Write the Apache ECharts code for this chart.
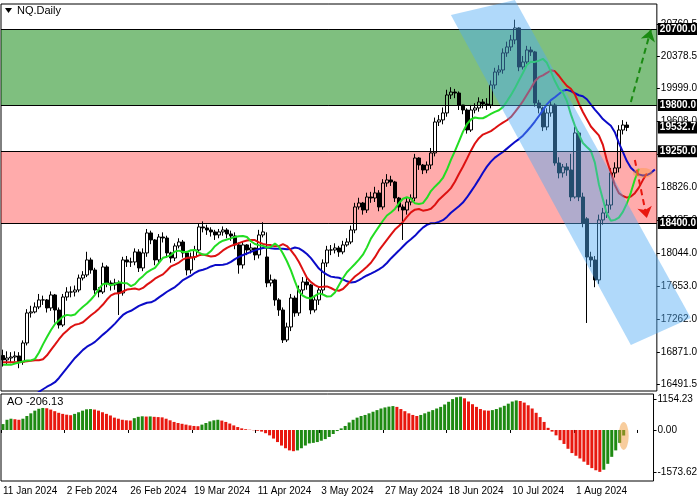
<!DOCTYPE html>
<html>
<head>
<meta charset="utf-8">
<script src="https://cdn.jsdelivr.net/npm/echarts@6/dist/echarts.min.js"></script>
<style>
  html, body { margin: 0; padding: 0; background: #fff; }
  #chart { width: 700px; height: 500px; }
</style>
</head>
<body>
<div id="chart"></div>
<script>
// daily NQ candles
const closes = [
  16778,16801,16813,16825,16754,16979,17335,17347,17406,17489,
  17489,17394,17548,17370,17192,17524,17583,17583,17607,17749,
  17785,17963,17844,17607,17583,17880,17690,17667,17690,17572,
  17963,17939,17939,18058,17868,18046,18283,18200,17963,18235,
  18223,18046,17986,18129,18176,18046,17844,17998,18081,18354,
  18342,18318,18295,18259,18295,18318,18271,18247,18141,17904,
  18141,18081,18105,18022,18259,18295,17690,17726,17489,17370,
  17015,17169,17512,17335,17607,17702,17667,17370,17489,17607,
  17927,18081,18081,18105,18058,18141,18176,18318,18591,18638,
  18555,18709,18697,18757,18591,18875,18911,18887,18697,18591,
  18555,18650,18697,19171,19088,19029,19088,19231,19598,19622,
  19705,19918,19953,19941,19799,19740,19503,19740,19764,19835,
  19811,19799,20036,20190,20214,20416,20487,20570,20712,20250,
  20309,20451,20428,19823,19764,19539,19705,19799,19112,18994,
  19065,19029,18709,19468,18709,18401,17998,17963,17726,18437,
  18520,18614,18994,19053,19503,19562,19533
];
const opens = [
  16830,16778,16801,16813,16825,16754,16979,17335,17347,17406,
  17489,17489,17394,17548,17370,17192,17524,17583,17583,17607,
  17749,17785,17963,17844,17607,17583,17880,17690,17667,17690,
  17572,17963,17939,17939,18058,17868,18046,18283,18200,17963,
  18235,18223,18046,17986,18129,18176,18046,17844,17998,18081,
  18354,18342,18318,18295,18259,18295,18318,18271,18247,18141,
  17904,18141,18081,18105,18022,18259,17998,17690,17726,17489,
  17370,17015,17169,17512,17335,17607,17702,17667,17370,17489,
  17607,17927,18081,18081,18105,18058,18141,18176,18318,18591,
  18638,18555,18709,18697,18757,18591,18875,18911,18887,18697,
  18591,18555,18650,18697,19171,19088,19029,19088,19231,19598,
  19622,19705,19918,19953,19941,19799,19740,19503,19740,19764,
  19835,19811,19799,20036,20190,20214,20416,20487,20570,20712,
  20250,20309,20451,20428,19823,19764,19539,19705,19799,19112,
  18994,19065,19029,18709,19468,18709,18450,17998,17963,17726,
  18437,18520,18614,18994,19053,19503,19562
];
const highs = [
  16900,16880,16870,16880,16870,17010,17380,17420,17460,17560,
  17540,17500,17590,17560,17400,17560,17640,17650,17660,17790,
  17830,18060,17990,17870,17640,17930,17900,17720,17740,17720,
  18000,18010,17990,18100,18090,18100,18330,18310,18210,18270,
  18290,18250,18060,18160,18220,18200,18070,18050,18130,18400,
  18420,18380,18350,18320,18330,18360,18340,18310,18290,18170,
  18180,18150,18160,18080,18320,18410,18290,17790,17740,17510,
  17400,17220,17560,17540,17660,17760,17760,17680,17530,17650,
  17970,18130,18140,18160,18130,18190,18220,18370,18640,18700,
  18650,18760,18770,18830,18790,18920,18980,18960,18900,18710,
  18620,18700,18740,19220,19180,19100,19130,19290,19650,19680,
  19770,19980,20010,19990,19960,19800,19760,19800,19820,19890,
  19870,19880,20090,20240,20270,20470,20550,20630,20810,20720,
  20380,20500,20490,20440,19860,19780,19760,19850,19820,19180,
  19100,19110,19220,19540,19490,18760,18470,18060,18010,18500,
  18580,18680,19050,19120,19560,19620,19600
];
const lows = [
  16700,16720,16740,16760,16680,16720,16950,17280,17330,17380,
  17430,17340,17360,17220,17150,17170,17480,17520,17530,17580,
  17720,17760,17800,17560,17520,17560,17640,17600,17610,17311,
  17540,17880,17880,17900,17820,17830,18000,18150,17900,17920,
  18170,17990,17930,17950,18100,17990,17780,17800,17960,18050,
  18290,18260,18240,18200,18220,18250,18220,18190,18090,17800,
  17860,18020,18040,17960,17980,18230,17640,17650,17420,17300,
  16979,16990,17120,17290,17300,17560,17610,17320,17340,17430,
  17550,17880,18020,18040,18000,18030,18120,18150,18280,18560,
  18500,18520,18640,18650,18540,18560,18830,18840,18650,18540,
  18200,18500,18610,18660,19030,18980,18990,19040,19190,19550,
  19570,19660,19870,19880,19740,19690,19460,19480,19700,19720,
  19760,19740,19760,19990,20150,20170,20370,20440,20520,20200,
  20220,20260,20380,19780,19700,19490,19500,19660,19080,18930,
  18940,18960,18660,18690,18660,18350,17216,17880,17640,17680,
  18380,18460,18560,18940,19000,19450,19490
];
// Awesome Oscillator histogram
const aoValues = [
  220,380,420,400,380,420,520,620,720,790,
  820,810,760,700,640,600,570,550,600,660,
  720,770,780,760,720,660,600,540,460,420,
  380,360,350,440,490,510,500,505,490,480,
  470,420,360,300,260,230,200,170,150,140,
  200,260,320,360,380,350,300,240,170,110,
  60,30,10,-10,-30,-60,-120,-200,-320,-450,
  -580,-680,-760,-790,-760,-680,-580,-500,-480,-450,
  -400,-340,-260,-150,-40,60,150,280,380,460,
  520,560,620,680,740,800,840,870,890,860,
  780,700,620,560,520,560,620,680,740,800,
  860,950,1050,1150,1220,1240,1180,1060,960,860,
  780,730,720,740,780,840,900,980,1060,1100,
  1080,1020,920,800,640,480,300,80,-60,-200,
  -380,-520,-700,-860,-960,-1060,-1180,-1300,-1420,-1500,
  -1560,-1480,-1260,-1000,-760,-480,-206.13
];
const tickLabels = ['11 Jan 2024','2 Feb 2024','26 Feb 2024','19 Mar 2024','11 Apr 2024',
  '3 May 2024','27 May 2024','18 Jun 2024','10 Jul 2024','1 Aug 2024'];
const priceTicks = [16491.5,16871,17262,17653,18044,18435,18826,19217,19608,19999,20378.5,20760.5];
const aoTicks = [-1573.62, 0, 1154.23];
const levels = [20700, 19800, 19250, 18400];
const lastPrice = 19532.7;
// alligator seeds (line values at the left edge)
const lipsSeed = 16720, teethSeed = 16750, jawSeed = 16330;
// channel corners [bar, price]
const channel = [[112, 20866], [128, 21043], [172, 17275], [157, 16955]];
const upArrow = [[157, 19835], [162, 20690]];
const downArrow = [[158, 19148], [161, 18460]];

const N = 164; // visible slots incl. shifted alligator space
const cats = [];
for (let i = 0; i < N; i++) cats.push(String(i));

const candles = closes.map((c, i) => [opens[i], c, lows[i], highs[i]]);
const median = highs.map((h, i) => (h + lows[i]) / 2);

function smmaShifted(period, shift, seed) {
  const s = [];
  let v = seed;
  for (let i = 0; i < median.length; i++) {
    v = (v * (period - 1) + median[i]) / period;
    s.push(v);
  }
  const out = [];
  for (let j = 0; j < N; j++) {
    const k = j - shift;
    if (k < 0) out.push(seed);
    else if (k < s.length) out.push(+s[k].toFixed(1));
    else out.push(null);
  }
  return out;
}

const aoData = aoValues.map((v, i) => ({
  value: v,
  itemStyle: { color: (i > 0 && v < aoValues[i - 1]) ? '#e8180f' : '#1e8a12' }
}));

const font = 'Liberation Sans';
const boxLabel = txt => ({
  show: true, position: 'end', distance: 1, formatter: txt, color: '#fff',
  backgroundColor: '#000', padding: [2, 1, 0, 2], fontSize: 10, fontWeight: 'bold', fontFamily: font
});

const chart = echarts.init(document.getElementById('chart'));
chart.setOption({
  animation: false,
  backgroundColor: '#fff',
  textStyle: { fontFamily: font },
  grid: [
    { left: 1, top: 4, width: 656, height: 387, show: true, borderColor: '#000', borderWidth: 1, backgroundColor: 'transparent' },
    { left: 1, top: 394, width: 656, height: 87, show: true, borderColor: '#000', borderWidth: 1, backgroundColor: 'transparent' }
  ],
  xAxis: [
    { type: 'category', gridIndex: 0, data: cats, boundaryGap: true,
      axisLine: { show: false }, axisTick: { show: false }, axisLabel: { show: false }, splitLine: { show: false } },
    { type: 'category', gridIndex: 1, data: cats, boundaryGap: true,
      axisLine: { show: false },
      axisTick: { show: true, interval: 15, length: 3, lineStyle: { color: '#000' } },
      axisLabel: { interval: 15, fontSize: 10, color: '#000', align: 'left', margin: 5,
        formatter: (v, idx) => tickLabels[idx / 16] || '' },
      splitLine: { show: false } }
  ],
  yAxis: [
    { type: 'value', gridIndex: 0, position: 'right', min: 16410, max: 20996,
      axisLine: { show: false }, splitLine: { show: false },
      axisTick: { show: true, customValues: priceTicks, length: 3, lineStyle: { color: '#000' } },
      axisLabel: { customValues: priceTicks, fontSize: 10, color: '#000', margin: 4,
        formatter: v => v.toFixed(1) } },
    { type: 'value', gridIndex: 1, position: 'right', min: -1900, max: 1340,
      axisLine: { show: false }, splitLine: { show: false },
      axisTick: { show: true, customValues: aoTicks, length: 3, lineStyle: { color: '#000' } },
      axisLabel: { customValues: aoTicks, fontSize: 10, color: '#000', margin: 4,
        formatter: v => v.toFixed(2) } }
  ],
  series: [
    { type: 'line', xAxisIndex: 0, yAxisIndex: 0, data: [], z: 0,
      markArea: { silent: true, data: [
        [{ yAxis: 19800, itemStyle: { color: 'rgba(0,128,0,0.5)' } }, { yAxis: 20700 }],
        [{ yAxis: 18400, itemStyle: { color: 'rgba(255,0,0,0.33)' } }, { yAxis: 19250 }]
      ] } },
    { name: 'NQ', type: 'candlestick', xAxisIndex: 0, yAxisIndex: 0, data: candles, barWidth: 3, z: 3,
      itemStyle: { color: 'rgba(0,0,0,0)', color0: '#000', borderColor: '#000', borderColor0: '#000', borderWidth: 1 },
      markLine: {
        silent: true, symbol: 'none', animation: false,
        data: levels.map(v => ({
          yAxis: v, lineStyle: { color: '#000', width: 1, type: 'solid' }, label: boxLabel(v.toFixed(1))
        })).concat([
          { yAxis: lastPrice, lineStyle: { color: 'rgba(0,0,0,0)', width: 1 }, label: boxLabel(lastPrice.toFixed(1)) },
          [{ coord: [String(upArrow[0][0]), upArrow[0][1]], symbol: 'none' },
           { coord: [String(upArrow[1][0]), upArrow[1][1]], symbol: 'arrow', symbolSize: 11,
             lineStyle: { color: '#1a8a12', width: 2, type: [6, 4] }, label: { show: false } }],
          [{ coord: [String(downArrow[0][0]), downArrow[0][1]], symbol: 'none' },
           { coord: [String(downArrow[1][0]), downArrow[1][1]], symbol: 'arrow', symbolSize: 11,
             lineStyle: { color: '#e8180f', width: 2, type: [6, 4] }, label: { show: false } }]
        ])
      } },
    { type: 'line', xAxisIndex: 0, yAxisIndex: 0, data: smmaShifted(13, 8, jawSeed), symbol: 'none', z: 4,
      lineStyle: { color: '#0b0bc8', width: 2 } },
    { type: 'line', xAxisIndex: 0, yAxisIndex: 0, data: smmaShifted(8, 5, teethSeed), symbol: 'none', z: 4,
      lineStyle: { color: '#dd1111', width: 2 } },
    { type: 'line', xAxisIndex: 0, yAxisIndex: 0, data: smmaShifted(5, 3, lipsSeed), symbol: 'none', z: 4,
      lineStyle: { color: '#22dd22', width: 2 } },
    { type: 'scatter', xAxisIndex: 0, yAxisIndex: 0, data: [['160', 18994]], symbolSize: [20, 10], z: 5,
      itemStyle: { color: 'rgba(255,150,60,0.55)' } },
    { type: 'bar', xAxisIndex: 1, yAxisIndex: 1, data: aoData, barWidth: 3 },
    { type: 'scatter', xAxisIndex: 1, yAxisIndex: 1, data: [['156', -220]], symbolSize: [10, 28], z: 5,
      itemStyle: { color: 'rgba(240,150,50,0.6)' } }
  ]
});

// falling channel and captions
const pts = channel.map(p => chart.convertToPixel({ xAxisIndex: 0, yAxisIndex: 0 }, [p[0], p[1]]));
chart.setOption({
  graphic: [
    { type: 'polygon', shape: { points: pts }, style: { fill: 'rgba(80,170,245,0.45)' }, z: 10, silent: true },
    { type: 'polygon', shape: { points: [[5, 8], [12, 8], [8.5, 13]] }, style: { fill: '#000' }, z: 20 },
    { type: 'text', left: 17, top: 5, style: { text: 'NQ.Daily', font: '11px ' + font, fill: '#000' }, z: 20 },
    { type: 'text', left: 7, top: 396, style: { text: 'AO -206.13', font: '11px ' + font, fill: '#000' }, z: 20 }
  ]
});
</script>
</body>
</html>
